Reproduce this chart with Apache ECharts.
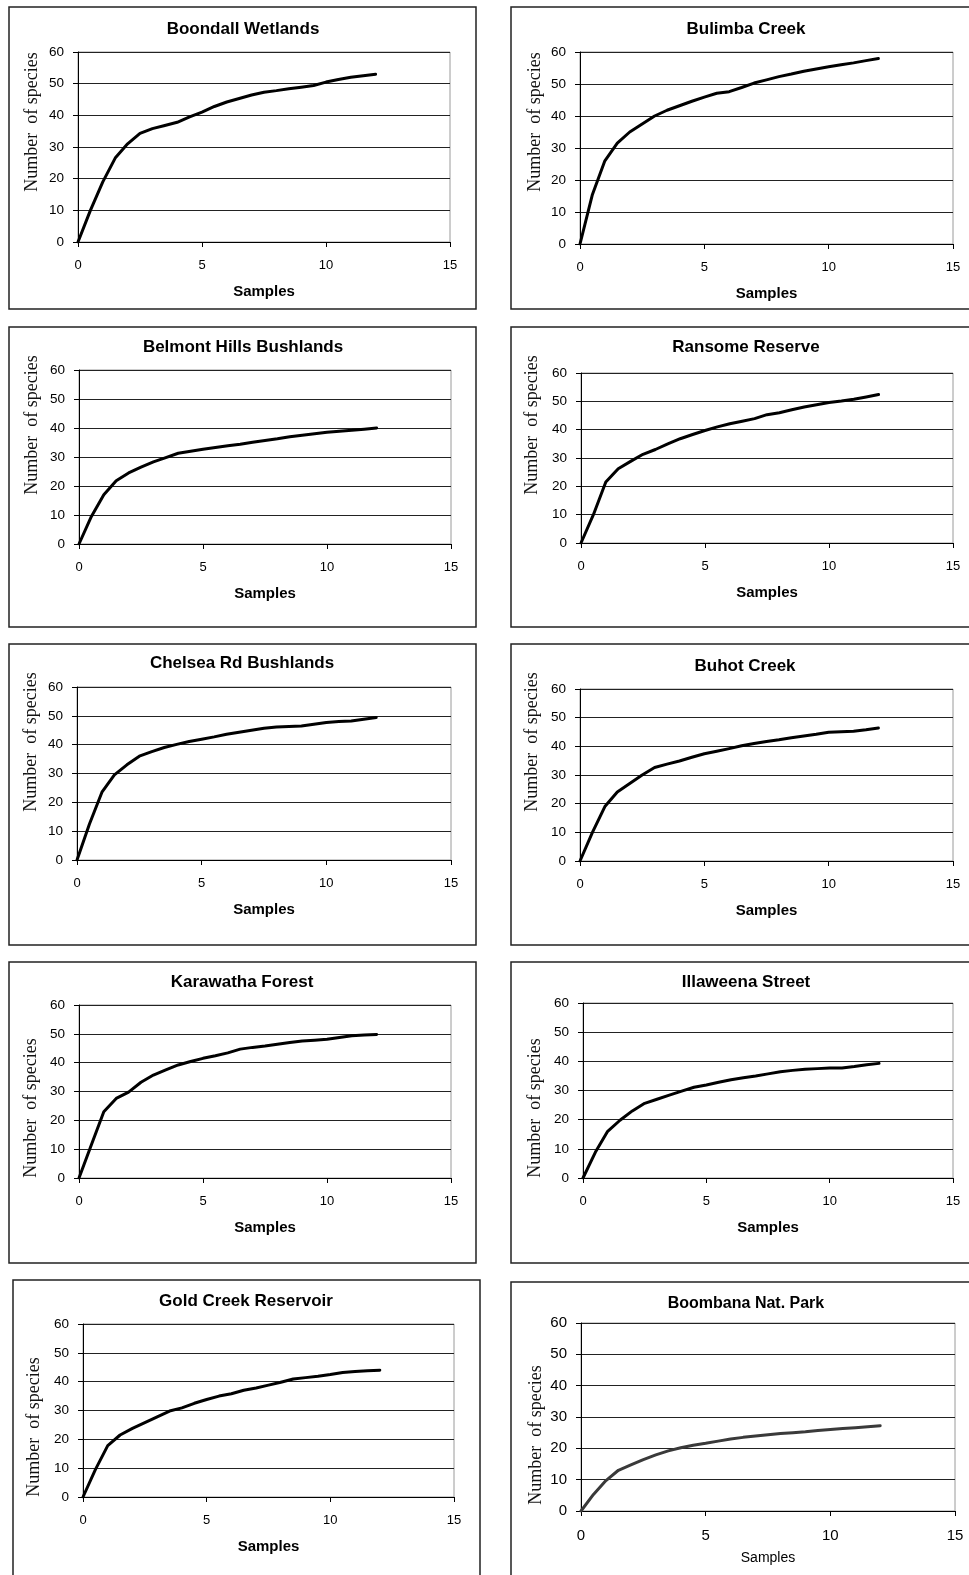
<!DOCTYPE html>
<html>
<head>
<meta charset="utf-8">
<script src="https://cdn.jsdelivr.net/npm/echarts@6/dist/echarts.min.js"></script>
<style>
  html, body { margin: 0; padding: 0; background: #fff; }
  #chart { width: 969px; height: 1575px; }
</style>
</head>
<body>
<div id="chart"></div>
<script>
// samples axis (x) shared by every site
const samples = [0, 0.5, 1, 1.5, 2, 2.5, 3, 3.5, 4, 4.5, 5, 5.5, 6, 6.5, 7, 7.5, 8, 8.5, 9, 9.5, 10, 10.5, 11, 11.5, 12];
const xTicks = [0, 5, 10, 15];
const yTicks = [0, 10, 20, 30, 40, 50, 60];

const siteNames = [
  "Boondall Wetlands", "Bulimba Creek",
  "Belmont Hills Bushlands", "Ransome Reserve",
  "Chelsea Rd Bushlands", "Buhot Creek",
  "Karawatha Forest", "Illaweena Street",
  "Gold Creek Reservoir", "Boombana Nat. Park"
];

// number of species at each sample count
const boondall = [0, 10, 19, 26.5, 31, 34.3, 35.8, 36.8, 37.8, 39.5, 41, 42.8, 44.2, 45.3, 46.4, 47.3, 47.8, 48.4, 48.9, 49.4, 50.5, 51.3, 52, 52.5, 53];
const bulimba = [0, 15.5, 26, 31.5, 35, 37.5, 40, 41.8, 43.2, 44.6, 45.9, 47.1, 47.6, 48.9, 50.3, 51.3, 52.3, 53.1, 54, 54.7, 55.4, 56, 56.6, 57.3, 58];
const belmont = [0, 9.5, 17, 21.8, 24.5, 26.5, 28.3, 29.8, 31.3, 32, 32.7, 33.3, 33.9, 34.4, 35.1, 35.7, 36.3, 37, 37.5, 38, 38.5, 38.9, 39.2, 39.6, 40];
const ransome = [0, 10, 21.5, 26.2, 28.8, 31.3, 33, 35, 36.8, 38.3, 39.7, 41, 42.1, 43, 43.9, 45.3, 46, 47, 48, 48.8, 49.6, 50.1, 50.7, 51.5, 52.4];
const chelsea = [0, 12.5, 23.5, 29.5, 33, 36, 37.6, 39, 40.1, 41.1, 41.9, 42.7, 43.6, 44.3, 45, 45.7, 46.1, 46.3, 46.5, 47.1, 47.7, 48, 48.2, 48.8, 49.4];
const buhot = [0, 10, 19, 24.1, 27, 30, 32.6, 33.8, 34.9, 36.2, 37.4, 38.3, 39.2, 40.2, 41, 41.7, 42.3, 43, 43.6, 44.2, 44.9, 45.1, 45.3, 45.8, 46.4];
const karawatha = [0, 11.5, 23, 27.6, 29.8, 33.2, 35.7, 37.5, 39.2, 40.4, 41.5, 42.4, 43.4, 44.7, 45.3, 45.8, 46.4, 47, 47.5, 47.8, 48.1, 48.7, 49.3, 49.6, 49.8];
const illaweena = [0, 8.8, 16, 19.8, 23, 25.6, 27, 28.4, 29.8, 31.1, 31.9, 32.8, 33.7, 34.4, 35, 35.7, 36.4, 36.9, 37.3, 37.5, 37.7, 37.7, 38.2, 38.8, 39.3];
const goldCreek = [0, 9.5, 17.8, 21.5, 23.8, 25.8, 27.8, 29.8, 30.9, 32.5, 33.8, 35, 35.8, 37, 37.8, 38.8, 39.8, 40.9, 41.4, 41.9, 42.5, 43.2, 43.5, 43.8, 44];
const boombana = [0, 5.3, 9.7, 13, 14.7, 16.4, 17.9, 19.2, 20.2, 21, 21.6, 22.3, 23, 23.5, 23.9, 24.3, 24.7, 25, 25.3, 25.7, 26, 26.3, 26.6, 26.9, 27.2];

const siteValues = [boondall, bulimba, belmont, ransome, chelsea, buhot, karawatha, illaweena, goldCreek, boombana];

// panel layout: frame box, plot area [x0, yTop, x1, yBottom], title centre, y-title centre
const panels = [
  { box: [9, 7, 467, 302],    plot: [78, 52, 450, 242],     title: [243, 31],   yName: [32, 122] },
  { box: [511, 7, 470, 302],  plot: [580, 52, 953, 244],    title: [746, 31],   yName: [535, 122] },
  { box: [9, 327, 467, 300],  plot: [79, 370, 451, 544],    title: [243, 349],  yName: [32, 425] },
  { box: [511, 327, 470, 300],plot: [581, 373, 953, 543],   title: [746, 349],  yName: [532, 425] },
  { box: [9, 644, 467, 301],  plot: [77, 687, 451, 860],    title: [242, 665],  yName: [31, 742] },
  { box: [511, 644, 470, 301],plot: [580, 689, 953, 861],   title: [745, 668],  yName: [532, 742] },
  { box: [9, 962, 467, 301],  plot: [79, 1005, 451, 1178],  title: [242, 984],  yName: [31, 1108] },
  { box: [511, 962, 470, 301],plot: [583, 1003, 953, 1178], title: [746, 984],  yName: [535, 1108] },
  { box: [13, 1280, 467, 300],plot: [83, 1324, 454, 1497],  title: [246, 1303], yName: [34, 1427] },
  { box: [511, 1282, 470, 300],plot: [581, 1323, 955, 1511],title: [746, 1306], yName: [536, 1435] }
];

const chart = echarts.init(document.getElementById("chart"));
const sans = "'Liberation Sans', Arial, sans-serif";
const serif = "'Liberation Serif', 'Times New Roman', serif";

const option = {
  backgroundColor: "#fff",
  animation: false,
  title: [],
  grid: [],
  xAxis: [],
  yAxis: [],
  series: [],
  graphic: []
};

panels.forEach((p, i) => {
  const last = i === panels.length - 1;
  const [x0, y0, x1, y1] = p.plot;

  option.graphic.push({
    type: "rect",
    shape: { x: p.box[0], y: p.box[1], width: p.box[2], height: p.box[3] },
    style: { fill: "none", stroke: "#222", lineWidth: 1.5 },
    z: 0
  });
  option.graphic.push({
    type: "text",
    x: p.yName[0],
    y: p.yName[1],
    rotation: Math.PI / 2,
    style: {
      text: "Number  of species",
      font: "18px " + serif,
      fill: "#111",
      align: "center",
      verticalAlign: "middle"
    }
  });

  option.title.push({
    text: siteNames[i],
    left: p.title[0],
    top: p.title[1] - 10,
    textAlign: "center",
    padding: 0,
    textStyle: {
      fontFamily: sans,
      fontWeight: "bold",
      fontSize: last ? 16 : 17,
      color: "#000"
    }
  });

  option.grid.push({
    left: x0,
    top: y0,
    width: x1 - x0,
    height: y1 - y0,
    show: true,
    borderColor: "#9a9a9a",
    borderWidth: 1,
    backgroundColor: "transparent"
  });

  option.xAxis.push({
    type: "value",
    gridIndex: i,
    min: xTicks[0],
    max: xTicks[xTicks.length - 1],
    interval: 5,
    name: "Samples",
    nameLocation: "middle",
    nameGap: last ? 40 : 42,
    nameTextStyle: {
      fontFamily: sans,
      fontWeight: last ? "normal" : "bold",
      fontSize: last ? 14 : 15,
      color: "#000"
    },
    axisLine: { show: true, lineStyle: { color: "#000", width: 1 } },
    axisTick: { show: true, inside: false, length: 5, lineStyle: { color: "#000" } },
    splitLine: { show: false },
    axisLabel: { fontFamily: sans, fontSize: last ? 15 : 13, color: "#000", margin: 17 }
  });

  option.yAxis.push({
    type: "value",
    gridIndex: i,
    min: yTicks[0],
    max: yTicks[yTicks.length - 1],
    interval: 10,
    axisLine: { show: true, lineStyle: { color: "#000", width: 1 } },
    axisTick: { show: true, inside: false, length: 5, lineStyle: { color: "#000" } },
    splitLine: { show: true, lineStyle: { color: "#222", width: 1 } },
    axisLabel: { fontFamily: sans, fontSize: last ? 15 : 13.5, color: "#000", margin: 14 }
  });

  option.series.push({
    name: siteNames[i],
    type: "line",
    xAxisIndex: i,
    yAxisIndex: i,
    data: samples.map((s, j) => [s, siteValues[i][j]]),
    showSymbol: false,
    symbol: "none",
    lineStyle: { color: last ? "#3a3a3a" : "#000", width: 3, join: "round", cap: "round" },
    z: 3
  });
});

chart.setOption(option);
</script>
</body>
</html>
